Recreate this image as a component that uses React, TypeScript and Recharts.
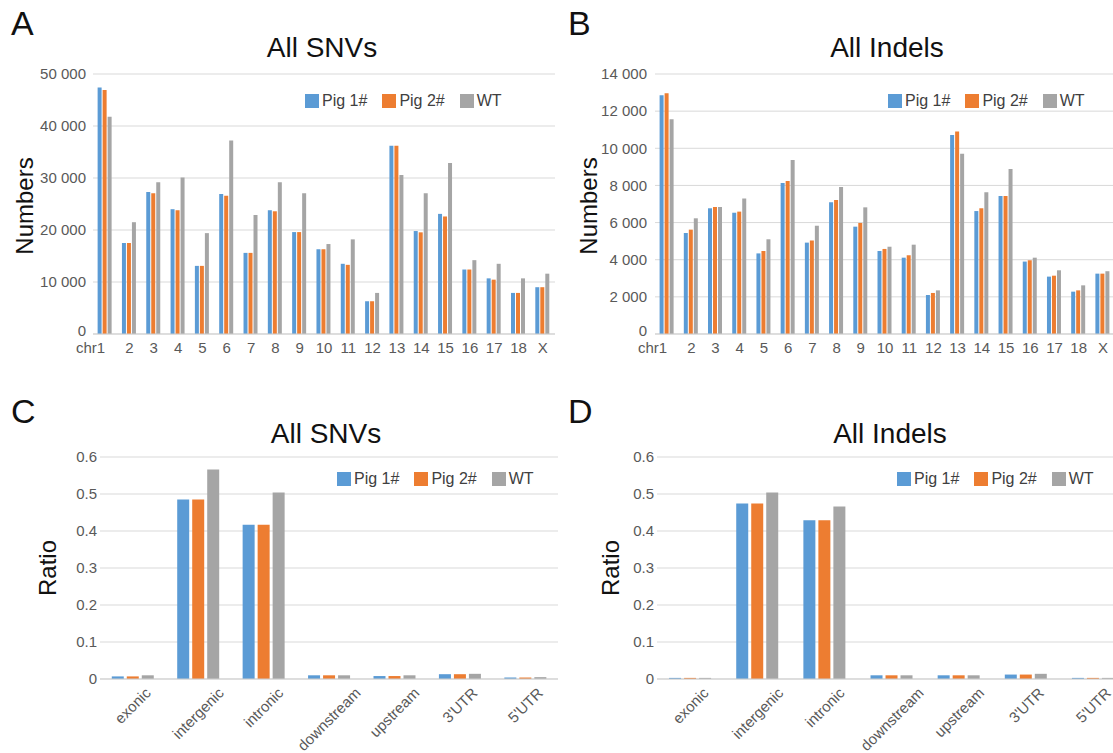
import { BarChart, Bar, XAxis, YAxis, CartesianGrid, Legend } from "recharts";

// chromosomes (first tick is shown as "chr1")
const chromosomes = ["1", "2", "3", "4", "5", "6", "7", "8", "9", "10", "11", "12", "13", "14", "15", "16", "17", "18", "X"];

const snvPig1 = [47400, 17500, 27300, 24000, 13100, 26900, 15600, 23800, 19600, 16300, 13500, 6300, 36200, 19800, 23100, 12400, 10700, 7900, 9000];
const snvPig2 = [46900, 17500, 27050, 23800, 13100, 26600, 15600, 23600, 19600, 16300, 13300, 6300, 36200, 19550, 22600, 12400, 10450, 7900, 9000];
const snvWT = [41800, 21500, 29200, 30100, 19400, 37200, 22900, 29200, 27050, 17300, 18200, 7900, 30600, 27050, 32900, 14200, 13500, 10700, 11600];

const indelPig1 = [12850, 5440, 6770, 6530, 4340, 8130, 4920, 7090, 5780, 4470, 4110, 2100, 10720, 6620, 7430, 3900, 3090, 2280, 3250];
const indelPig2 = [12960, 5620, 6840, 6590, 4470, 8240, 5040, 7220, 5980, 4580, 4240, 2210, 10900, 6770, 7430, 3970, 3140, 2350, 3250];
const indelWT = [11560, 6230, 6840, 7290, 5100, 9370, 5830, 7920, 6820, 4700, 4810, 2350, 9700, 7630, 8890, 4110, 3430, 2620, 3380];

const regions = ["exonic", "intergenic", "intronic", "downstream", "upstream", "3'UTR", "5'UTR"];

const snvRatioPig1 = [0.007, 0.485, 0.417, 0.01, 0.008, 0.013, 0.004];
const snvRatioPig2 = [0.007, 0.485, 0.417, 0.01, 0.008, 0.013, 0.004];
const snvRatioWT = [0.01, 0.566, 0.504, 0.01, 0.01, 0.014, 0.005];

const indelRatioPig1 = [0.003, 0.474, 0.429, 0.01, 0.01, 0.012, 0.003];
const indelRatioPig2 = [0.003, 0.474, 0.429, 0.01, 0.01, 0.012, 0.003];
const indelRatioWT = [0.003, 0.504, 0.466, 0.01, 0.01, 0.014, 0.003];

const seriesKeys = ["pig1", "pig2", "wt"];
const seriesNames = ["Pig 1#", "Pig 2#", "WT"];
const seriesColors = ["#5B9BD5", "#ED7D31", "#A5A5A5"];

const snvTicks = [0, 10000, 20000, 30000, 40000, 50000];
const indelTicks = [0, 2000, 4000, 6000, 8000, 10000, 12000, 14000];
const ratioTicks = [0, 0.1, 0.2, 0.3, 0.4, 0.5, 0.6];

const FONT = "Arial, 'Liberation Sans', Helvetica, sans-serif";
const TICK_COLOR = "#595959";

function buildRows(cats: string[], a: number[], b: number[], c: number[]) {
  return cats.map((name, i) => ({ name, pig1: a[i], pig2: b[i], wt: c[i] }));
}

const fmtCount = (v: number) => (v === 0 ? "0" : `${v / 1000} 000`);
const fmtRatio = (v: number) => (v === 0 ? "0" : v.toFixed(1));

function ChrTick(props: any) {
  const { x, y, payload, index } = props;
  const first = index === 0;
  return (
    <text
      x={x}
      y={y}
      dy="0.71em"
      textAnchor={first ? "end" : "middle"}
      fill={TICK_COLOR}
      fontSize={15}
      fontFamily={FONT}
    >
      {first ? "chr" + payload.value : payload.value}
    </text>
  );
}

// y tick; the zero label sits a little high so it clears "chr1" below it
function makeYTick(fmt: (v: number) => string, lift: number) {
  return (props: any) => {
    const { x, y, payload } = props;
    const up = payload.value === 0 ? lift : 0;
    return (
      <text
        x={x}
        y={y - up}
        dy="0.355em"
        textAnchor="end"
        fill={TICK_COLOR}
        fontSize={15}
        fontFamily={FONT}
      >
        {fmt(payload.value)}
      </text>
    );
  };
}

// rough Arial widths, used to centre rotated labels like Excel does
const charW: Record<string, number> = {
  a: 0.556, c: 0.5, d: 0.556, e: 0.556, g: 0.556, i: 0.222, m: 0.833, n: 0.556,
  o: 0.556, p: 0.556, r: 0.333, s: 0.5, t: 0.278, u: 0.556, w: 0.722, x: 0.5,
  "3": 0.556, "5": 0.556, "'": 0.191, U: 0.722, T: 0.611, R: 0.722
};
const textWidth = (s: string, size: number) =>
  s.split("").reduce((w, ch) => w + (charW[ch] ?? 0.556), 0) * size;

function RegionTick(props: any) {
  const { x, y, payload } = props;
  const w = textWidth(payload.value, 15);
  const ax = x + 0.354 * w + 3.7;
  const ay = y + 10;
  return (
    <text
      x={ax}
      y={ay}
      textAnchor="end"
      transform={`rotate(-45 ${ax} ${ay})`}
      fill={TICK_COLOR}
      fontSize={15}
      fontFamily={FONT}
    >
      {payload.value}
    </text>
  );
}

function LegendBox(props: any) {
  const items = props.payload || [];
  return (
    <div
      style={{
        display: "flex",
        alignItems: "center",
        gap: 15,
        fontFamily: FONT,
        fontSize: 16,
        color: "#404040",
        lineHeight: "18px",
        whiteSpace: "nowrap"
      }}
    >
      {items.map((it: any) => (
        <div key={it.value} style={{ display: "flex", alignItems: "center" }}>
          <span style={{ display: "inline-block", width: 14, height: 14, background: it.color, marginRight: 3 }} />
          <span>{it.value}</span>
        </div>
      ))}
    </div>
  );
}

function Panel(p: any) {
  return (
    <div style={{ position: "absolute", left: p.left, top: p.top }}>
      <BarChart
        width={p.width}
        height={p.height}
        data={p.rows}
        margin={p.margin}
        barGap={p.barGap}
        barCategoryGap={p.barCategoryGap}
      >
        <CartesianGrid horizontal vertical={false} stroke="#D9D9D9" />
        <XAxis
          dataKey="name"
          interval={0}
          height={p.xHeight}
          tick={p.xTick}
          tickLine={false}
          tickSize={3}
          tickMargin={p.xTickMargin}
          axisLine={{ stroke: "#CFCFCF" }}
        />
        <YAxis
          domain={[0, p.ticks[p.ticks.length - 1]]}
          ticks={p.ticks}
          width={60}
          axisLine={false}
          tickLine={false}
          tickSize={p.yTickSize}
          tickMargin={p.yTickMargin}
          tick={makeYTick(p.fmt, p.zeroLift)}
        />
        <Legend
          layout="horizontal"
          verticalAlign="middle"
          align="center"
          content={LegendBox}
          wrapperStyle={{ left: p.legendLeft, top: p.legendTop, width: 260 }}
        />
        {seriesKeys.map((k, i) => (
          <Bar key={k} dataKey={k} name={seriesNames[i]} fill={seriesColors[i]} isAnimationActive={false} />
        ))}
      </BarChart>
    </div>
  );
}

export default function App() {
  const txt = { fontFamily: FONT };
  return (
    <div
      style={{
        position: "absolute",
        left: 0,
        top: 0,
        width: 1113,
        height: 753,
        overflow: "hidden",
        background: "#fff"
      }}
    >
      <Panel
        left={0}
        top={0}
        width={570}
        height={380}
        rows={buildRows(chromosomes, snvPig1, snvPig2, snvWT)}
        margin={{ top: 74, right: 15, left: 33, bottom: 16 }}
        barGap={1}
        barCategoryGap="19%"
        xHeight={30}
        xTick={ChrTick}
        xTickMargin={5}
        ticks={snvTicks}
        fmt={fmtCount}
        zeroLift={3}
        yTickSize={6}
        yTickMargin={1}
        legendLeft={305}
        legendTop={92}
      />
      <Panel
        left={556}
        top={0}
        width={570}
        height={380}
        rows={buildRows(chromosomes, indelPig1, indelPig2, indelWT)}
        margin={{ top: 74, right: 11, left: 39, bottom: 16 }}
        barGap={1}
        barCategoryGap="19%"
        xHeight={30}
        xTick={ChrTick}
        xTickMargin={5}
        ticks={indelTicks}
        fmt={fmtCount}
        zeroLift={3}
        yTickSize={6}
        yTickMargin={2}
        legendLeft={332}
        legendTop={92}
      />
      <Panel
        left={0}
        top={380}
        width={570}
        height={373}
        rows={buildRows(regions, snvRatioPig1, snvRatioPig2, snvRatioWT)}
        margin={{ top: 77, right: 12, left: 40, bottom: 4 }}
        barGap={3}
        barCategoryGap="18%"
        xHeight={70}
        xTick={RegionTick}
        xTickMargin={2}
        ticks={ratioTicks}
        fmt={fmtRatio}
        zeroLift={0}
        yTickSize={2}
        yTickMargin={1}
        legendLeft={337}
        legendTop={90}
      />
      <Panel
        left={556}
        top={380}
        width={590}
        height={373}
        rows={buildRows(regions, indelRatioPig1, indelRatioPig2, indelRatioWT)}
        margin={{ top: 77, right: 19, left: 41, bottom: 4 }}
        barGap={3}
        barCategoryGap="18%"
        xHeight={70}
        xTick={RegionTick}
        xTickMargin={2}
        ticks={ratioTicks}
        fmt={fmtRatio}
        zeroLift={0}
        yTickSize={2}
        yTickMargin={1}
        legendLeft={341}
        legendTop={90}
      />

      <svg
        width={1113}
        height={753}
        style={{ position: "absolute", left: 0, top: 0, pointerEvents: "none" }}
      >
        <g style={txt} fill="#111">
          <text x={11} y={35} fontSize={34}>A</text>
          <text x={568} y={35} fontSize={34}>B</text>
          <text x={11} y={423} fontSize={34}>C</text>
          <text x={568} y={423} fontSize={34}>D</text>

          <text x={322} y={57} fontSize={28} textAnchor="middle">All SNVs</text>
          <text x={887} y={57} fontSize={28} textAnchor="middle">All Indels</text>
          <text x={326} y={443} fontSize={28} textAnchor="middle">All SNVs</text>
          <text x={890} y={443} fontSize={28} textAnchor="middle">All Indels</text>

          <text transform="translate(32.5,206) rotate(-90)" fontSize={24} textAnchor="middle">Numbers</text>
          <text transform="translate(596.5,206) rotate(-90)" fontSize={24} textAnchor="middle">Numbers</text>
          <text transform="translate(55.5,568) rotate(-90)" fontSize={24} textAnchor="middle">Ratio</text>
          <text transform="translate(618.5,568) rotate(-90)" fontSize={24} textAnchor="middle">Ratio</text>
        </g>
      </svg>
    </div>
  );
}
